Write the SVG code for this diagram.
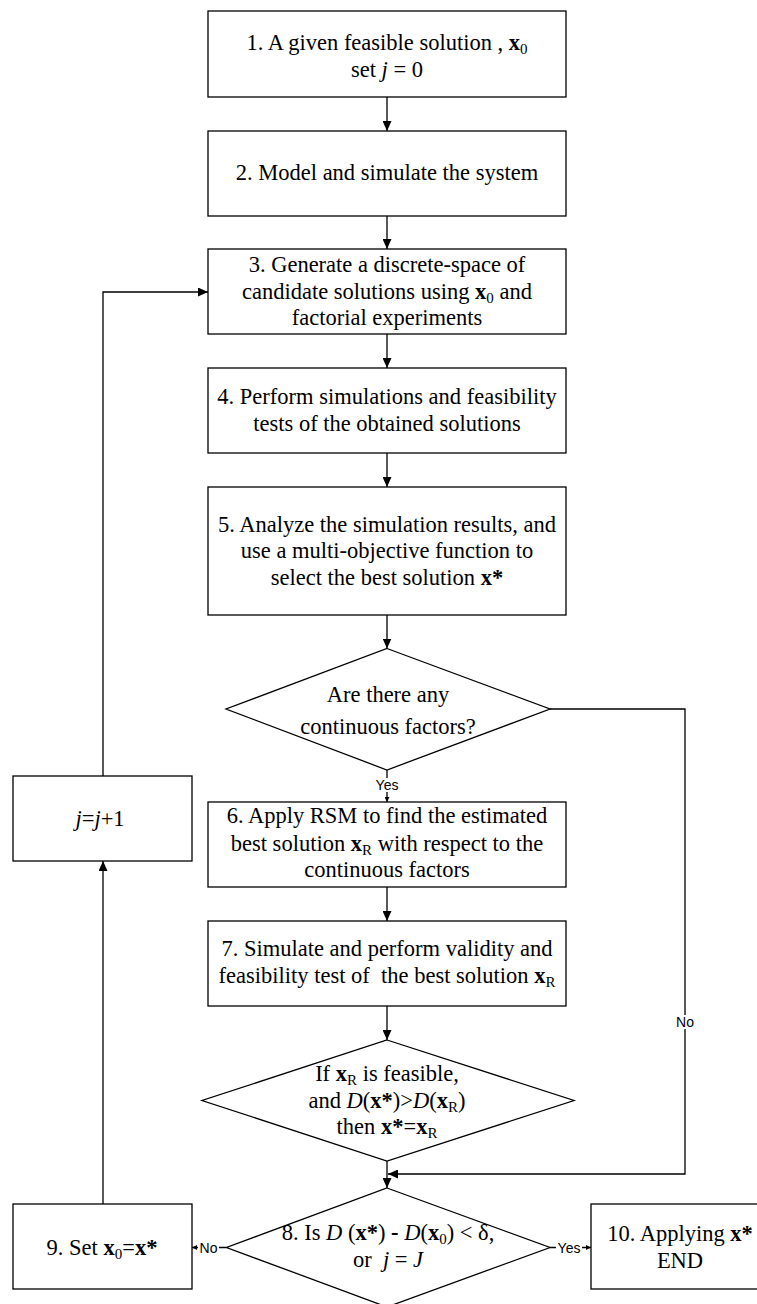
<svg xmlns="http://www.w3.org/2000/svg" width="757" height="1304" viewBox="0 0 757 1304">
<style>
.box{fill:#fff;stroke:#000;stroke-width:1.3}
.t{font-family:"Liberation Serif","Times New Roman",serif;font-size:22.5px;fill:#000;text-anchor:middle}
.lbl{font-family:"Liberation Sans",Arial,sans-serif;font-size:14px;fill:#000;text-anchor:middle}
.lb{fill:#fff;stroke:none}
.b{font-weight:bold}
.i{font-style:italic}
.s{font-size:15px}
.edge{fill:none;stroke:#000;stroke-width:1.3}
</style>
<defs>
<marker id="big" markerUnits="userSpaceOnUse" markerWidth="10" markerHeight="9" refX="10" refY="4.5" orient="auto"><path d="M0,0 L10,4.5 L0,9 z" fill="#000"/></marker>
<marker id="small" markerUnits="userSpaceOnUse" markerWidth="5" markerHeight="5" refX="5" refY="2.5" orient="auto"><path d="M0,0 L5,2.5 L0,5 z" fill="#000"/></marker>
</defs>
<rect width="757" height="1304" fill="#fff"/>
<g id="connectors">
<path class="edge" d="M387,97 V131" marker-end="url(#big)"/>
<path class="edge" d="M387,216 V249" marker-end="url(#big)"/>
<path class="edge" d="M387,334 V368" marker-end="url(#big)"/>
<path class="edge" d="M387,453 V487" marker-end="url(#big)"/>
<path class="edge" d="M387,615 V648.5" marker-end="url(#big)"/>
<path class="edge" d="M387,770 V802" marker-end="url(#small)"/>
<path class="edge" d="M387,887 V921" marker-end="url(#big)"/>
<path class="edge" d="M387,1006 V1040" marker-end="url(#big)"/>
<path class="edge" d="M387,1161 V1188" marker-end="url(#big)"/>
<path class="edge" d="M550,709 H685 V1174 H388" marker-end="url(#big)"/>
<path class="edge" d="M226.5,1247.5 H192" marker-end="url(#small)"/>
<path class="edge" d="M550,1247.5 H591" marker-end="url(#small)"/>
<path class="edge" d="M103,1204 V861" marker-end="url(#big)"/>
<path class="edge" d="M103,776 V292 H208" marker-end="url(#big)"/>
<rect class="lb" x="374" y="778" width="26" height="14"/>
<text class="lbl" x="387" y="790">Yes</text>
<rect class="lb" x="675" y="1015" width="20" height="14"/>
<text class="lbl" x="685" y="1027">No</text>
<rect class="lb" x="198" y="1241" width="21" height="14"/>
<text class="lbl" x="208.5" y="1252.5">No</text>
<rect class="lb" x="556" y="1241" width="26" height="14"/>
<text class="lbl" x="569" y="1252.5">Yes</text>
</g>
<g id="n1">
<rect class="box" x="208" y="11" width="358" height="86"/>
<text class="t" x="387" y="50">1. A given feasible solution ,  <tspan class="b">x</tspan><tspan class="s" dy="4">0</tspan></text>
<text class="t" x="387" y="76.5">set <tspan class="i">j</tspan> = 0</text>
</g>
<g id="n2">
<rect class="box" x="208" y="131" width="358" height="85"/>
<text class="t" x="387" y="180">2. Model and simulate the system</text>
</g>
<g id="n3">
<rect class="box" x="208" y="249" width="358" height="85"/>
<text class="t" x="387" y="272">3. Generate a discrete-space of</text>
<text class="t" x="387" y="298.5">candidate solutions using <tspan class="b">x</tspan><tspan class="s" dy="4">0</tspan><tspan dy="-4"> and</tspan></text>
<text class="t" x="387" y="325">factorial experiments</text>
</g>
<g id="n4">
<rect class="box" x="208" y="368" width="358" height="85"/>
<text class="t" x="387" y="404">4. Perform simulations and feasibility</text>
<text class="t" x="387" y="430.7">tests of the obtained solutions</text>
</g>
<g id="n5">
<rect class="box" x="208" y="487" width="358" height="128"/>
<text class="t" x="387" y="531.7">5. Analyze the simulation results, and</text>
<text class="t" x="387" y="558.3">use a multi-objective function to</text>
<text class="t" x="387" y="585">select the best solution <tspan class="b">x*</tspan></text>
</g>
<g id="d1">
<polygon class="box" points="387,648.5 550,709 387,770 226,709"/>
<text class="t" x="388" y="701.5">Are there any</text>
<text class="t" x="388" y="733.5">continuous factors?</text>
</g>
<g id="n6">
<rect class="box" x="208" y="802" width="358" height="85"/>
<text class="t" x="387" y="823.3">6. Apply RSM to find the estimated</text>
<text class="t" x="387" y="850.7">best solution <tspan class="b">x</tspan><tspan class="s" dy="4">R</tspan><tspan dy="-4"> with respect to the</tspan></text>
<text class="t" x="387" y="877.3">continuous factors</text>
</g>
<g id="n7">
<rect class="box" x="208" y="921" width="358" height="85"/>
<text class="t" x="387" y="956">7. Simulate and perform validity and</text>
<text class="t" x="387" y="983.3" xml:space="preserve" style="white-space:pre">feasibility test of  the best solution <tspan class="b">x</tspan><tspan class="s" dy="4">R</tspan></text>
</g>
<g id="d2">
<polygon class="box" points="387,1040 574,1100.5 387,1161 202,1100.5"/>
<text class="t" x="387" y="1081">If <tspan class="b">x</tspan><tspan class="s" dy="4">R</tspan><tspan dy="-4"> is feasible,</tspan></text>
<text class="t" x="387" y="1107.7">and <tspan class="i">D</tspan>(<tspan class="b">x*</tspan>)&gt;<tspan class="i">D</tspan>(<tspan class="b">x</tspan><tspan class="s" dy="4">R</tspan><tspan dy="-4">)</tspan></text>
<text class="t" x="387" y="1134.3">then <tspan class="b">x*</tspan>=<tspan class="b">x</tspan><tspan class="s" dy="4">R</tspan></text>
</g>
<g id="d3">
<polygon class="box" points="387,1188 550,1247.5 387,1307 226.5,1247.5"/>
<text class="t" x="388" y="1240">8. Is <tspan class="i">D</tspan> (<tspan class="b">x*</tspan>) <tspan class="b">-</tspan> <tspan class="i">D</tspan>(<tspan class="b">x</tspan><tspan class="s" dy="4">0</tspan><tspan dy="-4">) &lt; δ,</tspan></text>
<text class="t" x="388" y="1266.7" xml:space="preserve" style="white-space:pre">or  <tspan class="i">j</tspan> = <tspan class="i">J</tspan></text>
</g>
<g id="n8">
<rect class="box" x="13" y="776" width="179" height="85"/>
<text class="t" x="100" y="826"><tspan class="i">j</tspan>=<tspan class="i">j</tspan>+1</text>
</g>
<g id="n9">
<rect class="box" x="13" y="1204" width="179" height="85"/>
<text class="t" x="102" y="1255">9. Set <tspan class="b">x</tspan><tspan class="s" dy="4">0</tspan><tspan dy="-4">=</tspan><tspan class="b">x*</tspan></text>
</g>
<g id="n10">
<rect class="box" x="591" y="1204" width="178" height="85"/>
<text class="t" x="680" y="1241">10. Applying <tspan class="b">x*</tspan></text>
<text class="t" x="680" y="1267.7">END</text>
</g>
</svg>
